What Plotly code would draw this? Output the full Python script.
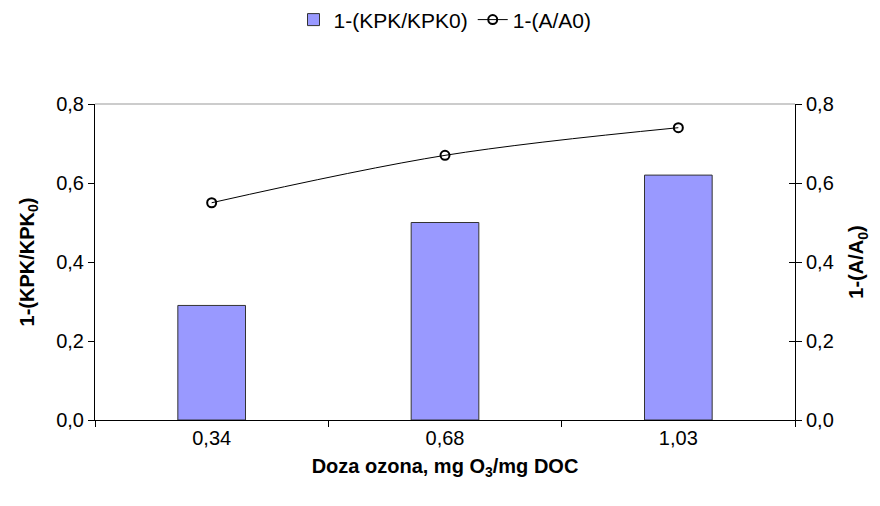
import plotly.graph_objects as go

categories = ["0,34", "0,68", "1,03"]
kpk_values = [0.29, 0.50, 0.62]
a_values = [0.55, 0.67, 0.74]
y_ticks = [0.0, 0.2, 0.4, 0.6, 0.8]

FONT = "Liberation Sans, Arial, sans-serif"
FS = 20

fig = go.Figure()
fig.add_trace(go.Bar(
    x=categories, y=kpk_values, name="1-(KPK/KPK0)",
    marker=dict(color="#9999FF", line=dict(color="#333333", width=1)),
    width=0.29, yaxis="y",
))
fig.add_trace(go.Scatter(
    x=categories, y=a_values, name="1-(A/A0)", mode="lines+markers",
    line=dict(color="black", width=1, shape="spline"),
    marker=dict(symbol="circle-open", size=9, color="black", line=dict(width=2)),
    yaxis="y2",
))
# invisible helper so the inner tick marks of the right axis get drawn
fig.add_trace(go.Scatter(
    x=categories, y=a_values, mode="markers", marker=dict(opacity=0),
    showlegend=False, hoverinfo="skip", yaxis="y3",
))

common_y = dict(
    range=[0, 0.8], tickvals=y_ticks, tickformat=".1f", ticklen=6,
    tickcolor="black", showline=True, linecolor="black", linewidth=1,
    showgrid=False, zeroline=False, tickfont=dict(size=FS),
)

fig.update_layout(
    width=872, height=498,
    margin=dict(l=87, r=85, t=96, b=86, autoexpand=False),
    paper_bgcolor="white", plot_bgcolor="white",
    separators=",.",
    font=dict(family=FONT, size=FS, color="black"),
    showlegend=True,
    legend=dict(orientation="h", x=0.5, xanchor="center", y=0.976, yanchor="middle",
                yref="container", font=dict(size=21), traceorder="normal"),
    xaxis=dict(
        type="category", tickson="boundaries", ticks="outside", ticklen=6,
        tickcolor="black", showline=True, linecolor="black", linewidth=1,
        showgrid=False,
        title=dict(text="<b>Doza ozona, mg O<sub>3</sub>/mg DOC</b>", font=dict(size=FS), standoff=10),
        tickfont=dict(size=FS),
    ),
    yaxis=dict(
        **common_y, ticks="outside",
        title=dict(text="<b>1-(KPK/KPK<sub>0</sub>)</b>", font=dict(size=FS), standoff=16),
    ),
    yaxis2=dict(
        **common_y, ticks="outside", overlaying="y", side="right",
        title=dict(text="<b>1-(A/A<sub>0</sub>)</b>", font=dict(size=FS), standoff=16),
    ),
    yaxis3=dict(
        range=[0, 0.8], tickvals=y_ticks, ticks="inside", ticklen=6, tickcolor="black",
        showticklabels=False, showline=False, showgrid=False, zeroline=False,
        overlaying="y", side="right",
    ),
    shapes=[dict(type="line", xref="paper", yref="paper", x0=0, x1=1, y0=1, y1=1,
                 line=dict(color="#999999", width=1))],
)

fig.write_html("out.html")
